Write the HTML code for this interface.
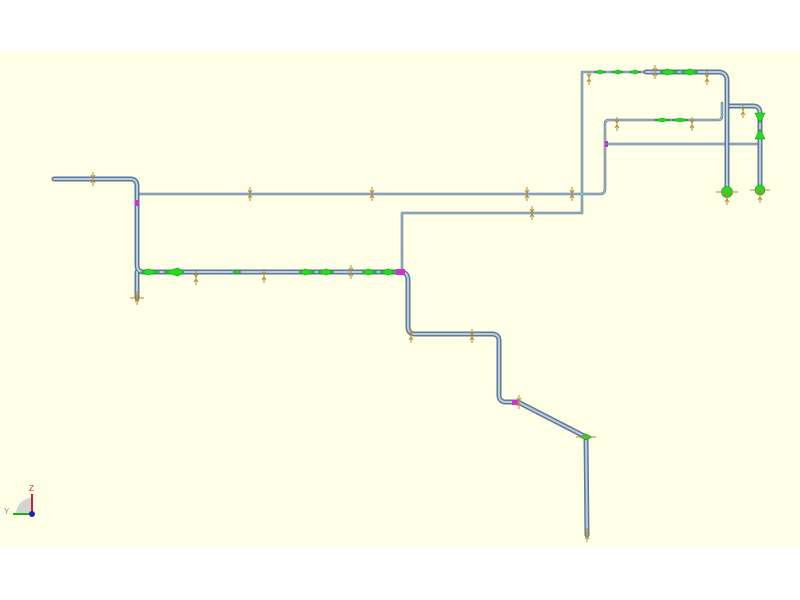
<!DOCTYPE html>
<html><head><meta charset="utf-8"><style>
html,body{margin:0;padding:0;background:#fff;}
svg{display:block}
</style></head><body>
<svg width="800" height="600" viewBox="0 0 800 600" xmlns="http://www.w3.org/2000/svg" font-family="Liberation Sans, sans-serif">
<rect x="0" y="0" width="800" height="600" fill="#ffffff"/>
<rect x="0" y="52" width="800" height="495" fill="#ffffe8"/>
<defs>
<g id="sup"><line x1="0" y1="-7" x2="0" y2="7" stroke="#b08a3a" stroke-width="1"/><path d="M-2,-4 L0,-1 L2,-4 M-2,4 L0,1 L2,4" stroke="#b08a3a" fill="none" stroke-width="1"/></g>
</defs>
<g fill="none" stroke-linejoin="round" stroke-linecap="round">
<g stroke="#5f7a92" stroke-width="2.5">
<path d="M140,194 L600,194 Q605,194 605,189 L605,124 Q605,120 609,120 L718,120 Q722,120 722,116 L722,103"/>
<path d="M402,272 L402,213 L582,213 L582,72 L646,72"/>
<path d="M607,144 L758,144"/>
</g>
<g stroke="#b4c8dc" stroke-width="1">
<path d="M140,194 L600,194 Q605,194 605,189 L605,124 Q605,120 609,120 L718,120 Q722,120 722,116 L722,103"/>
<path d="M402,272 L402,213 L582,213 L582,72 L646,72"/>
<path d="M607,144 L758,144"/>
</g>
<g stroke="#5f7a92" stroke-width="5">
<path d="M54,179 L130,179 Q137,179 137,186 L137,265 Q137,272 144,272 L400,272 Q408,272 408,280 L408,327 Q408,334 415,334 L492,334 Q499,334 499,341 L499,395 Q499,402 506,402 L518,402 L586,437 L587,535"/>
<path d="M137,272 L137,298"/>
<path d="M646,72 L718,72 Q727,72 727,81 L727,192"/>
<path d="M730,106 L753,106 Q760,106 760,113 L760,190"/>
</g>
<g stroke="#b8cde0" stroke-width="2">
<path d="M54,179 L130,179 Q137,179 137,186 L137,265 Q137,272 144,272 L400,272 Q408,272 408,280 L408,327 Q408,334 415,334 L492,334 Q499,334 499,341 L499,395 Q499,402 506,402 L518,402 L586,437 L587,535"/>
<path d="M137,272 L137,298"/>
<path d="M646,72 L718,72 Q727,72 727,81 L727,192"/>
<path d="M730,106 L753,106 Q760,106 760,113 L760,190"/>
</g>
</g>
<g fill="#22dd22" stroke="#119911" stroke-width="0.6">
<path d="M141,272 L148,269 L160,272 L148,275Z"/>
<path d="M164,272 L178,268 L184,272 L178,276Z"/>
<path d="M233,272 L237,270 L241,272 L237,274Z"/>
<path d="M299,272 L305,269 L315,272 L305,275Z"/>
<path d="M318,272 L326,269 L334,272 L326,275Z"/>
<path d="M362,272 L368,269 L377,272 L368,275Z"/>
<path d="M380,272 L388,269 L397,272 L388,275Z"/>
<path d="M660,72 L667,69 L678,72 L667,75Z"/>
<path d="M681,72 L690,69 L698,72 L690,75Z"/>
<path d="M595,72 L600,70 L605,72 L600,74Z"/>
<path d="M612,72 L618,70 L623,72 L618,74Z"/>
<path d="M630,72 L635,70 L640,72 L635,74Z"/>
<path d="M655,120 L662,118 L670,120 L662,122Z"/>
<path d="M672,120 L680,118 L688,120 L680,122Z"/>
<path d="M755,113 L765,113 L760,123Z"/>
<path d="M755,139 L765,139 L760,129Z"/>
<circle cx="727" cy="192" r="5.5"/>
<circle cx="760" cy="190" r="5"/>
<path d="M580,437 L586,434 L592,437 L586,440Z"/>
</g>
<g fill="#cc33cc">
<rect x="396" y="269" width="9" height="6"/>
<rect x="135" y="200" width="4" height="6"/>
<rect x="512" y="400" width="6" height="5"/>
<rect x="605" y="141" width="3" height="6"/>
</g>
<g>
<use href="#sup" x="93" y="179"/>
<use href="#sup" x="250" y="194"/>
<use href="#sup" x="372" y="194"/>
<use href="#sup" x="527" y="194"/>
<use href="#sup" x="572" y="194"/>
<use href="#sup" x="532" y="213"/>
<use href="#sup" x="196" y="278"/>
<use href="#sup" x="264" y="276"/>
<use href="#sup" x="351" y="272"/>
<use href="#sup" x="137" y="298"/>
<use href="#sup" x="411" y="336"/>
<use href="#sup" x="472" y="336"/>
<use href="#sup" x="519" y="402"/>
<use href="#sup" x="655" y="72"/>
<use href="#sup" x="707" y="78"/>
<use href="#sup" x="617" y="124"/>
<use href="#sup" x="692" y="124"/>
<use href="#sup" x="743" y="111"/>
<use href="#sup" x="727" y="198"/>
<use href="#sup" x="760" y="196"/>
<use href="#sup" x="587" y="535"/>
<use href="#sup" x="589" y="78"/>
</g>
<g stroke="#b08a3a" stroke-width="1">
<line x1="716" y1="192" x2="738" y2="192"/>
<line x1="750" y1="190" x2="770" y2="190"/>
<line x1="130" y1="298" x2="144" y2="298"/>
<line x1="576" y1="437" x2="596" y2="437"/>
</g>
<g>
<path d="M32,514 L32,498 A16,16 0 0 0 16,514 Z" fill="#c8c8c8" opacity="0.8"/>
<line x1="32" y1="514" x2="32" y2="494" stroke="#cc2222" stroke-width="2"/>
<line x1="32" y1="514" x2="13" y2="514" stroke="#22aa22" stroke-width="2"/>
<circle cx="32" cy="514" r="3" fill="#2222aa"/>
<text x="29" y="491" font-size="8" fill="#cc3333">Z</text>
<text x="4" y="514" font-size="8" fill="#66aa66">Y</text>
</g>
</svg>
</body></html>
